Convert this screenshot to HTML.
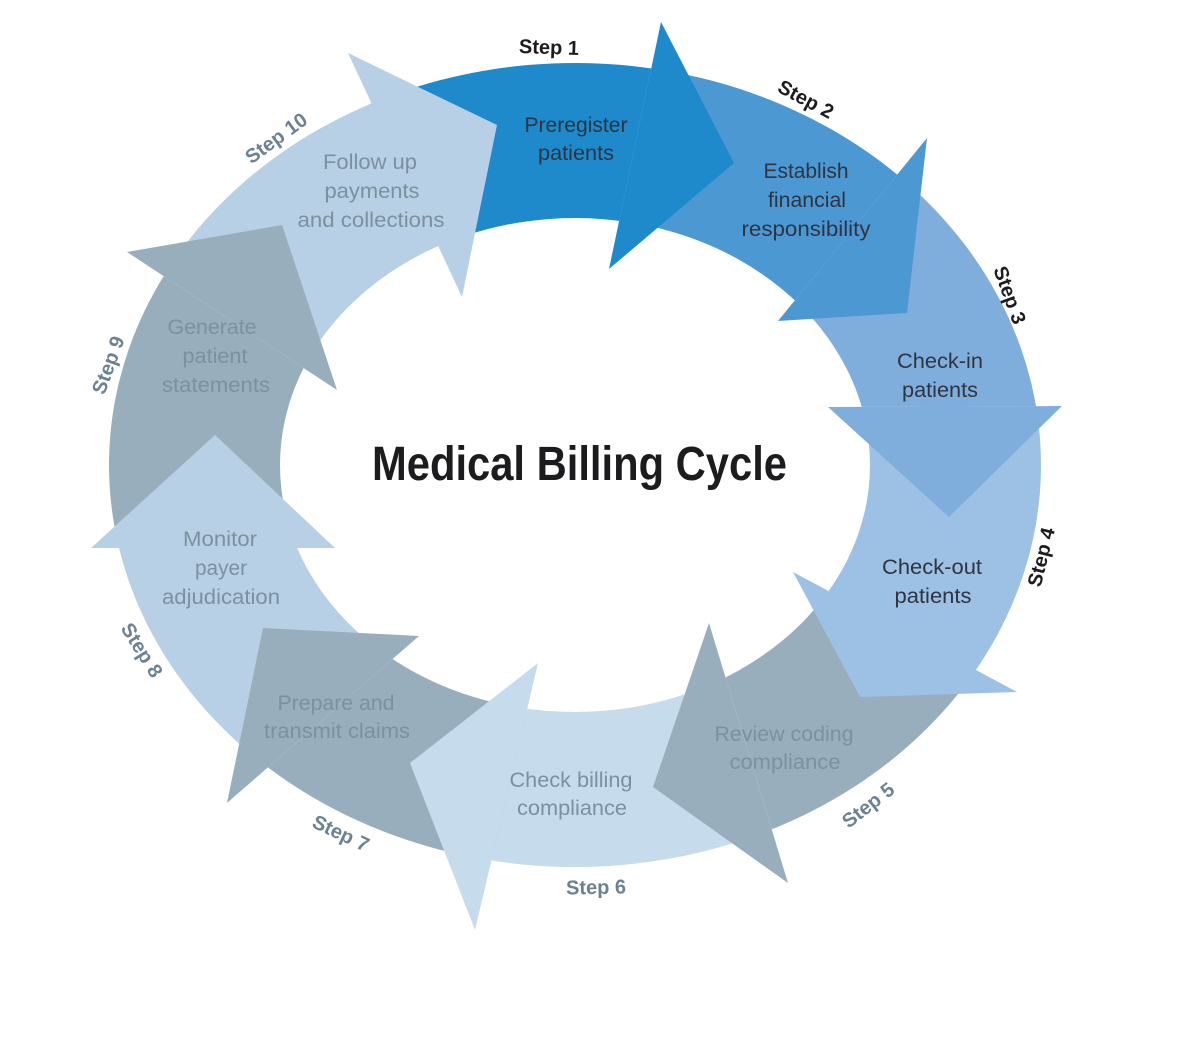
<!DOCTYPE html>
<html><head><meta charset="utf-8"><style>
html,body{margin:0;padding:0;background:#fff;}
svg{display:block;}
text{font-family:"Liberation Sans",Arial,sans-serif;}
.in{font-size:21px;text-anchor:middle;}
.st{font-size:20px;font-weight:bold;text-anchor:middle;}
</style></head><body>
<svg width="1200" height="1043" viewBox="0 0 1200 1043" xmlns="http://www.w3.org/2000/svg">
<defs>
<clipPath id="c1"><polygon points="462,297 348,53 363,-817 661,22 609,269"/></clipPath>
<clipPath id="c2"><polygon points="609,269 661,22 1232,-690 927,138 778,321"/></clipPath>
<clipPath id="c3"><polygon points="778,321 927,138 1833,-114 1062,406 828,407"/></clipPath>
<clipPath id="c4"><polygon points="828,407 1062,406 1969,717 1017,692 793,572"/></clipPath>
<clipPath id="c5"><polygon points="793,572 1017,692 1557,1432 788,883 709,623"/></clipPath>
<clipPath id="c6"><polygon points="709,623 788,883 744,1789 475,930 538,663"/></clipPath>
<clipPath id="c7"><polygon points="538,663 475,930 -97,1669 227,803 419,636"/></clipPath>
<clipPath id="c8"><polygon points="419,636 227,803 -673,1096 91,548 335,548"/></clipPath>
<clipPath id="c9"><polygon points="335,548 91,548 -823,270 127,252 337,390"/></clipPath>
<clipPath id="c10"><polygon points="337,390 127,252 -437,-472 348,53 462,297"/></clipPath>
</defs>

<g fill-rule="evenodd">
<path clip-path="url(#c1)" fill="#1e89cb" d="M109,465 a466,402 0 1,0 932,0 a466,402 0 1,0 -932,0 Z M280,465 a295,247 0 1,0 590,0 a295,247 0 1,0 -590,0 Z"/>
<path clip-path="url(#c2)" fill="#4c98d3" d="M109,465 a466,402 0 1,0 932,0 a466,402 0 1,0 -932,0 Z M280,465 a295,247 0 1,0 590,0 a295,247 0 1,0 -590,0 Z"/>
<path clip-path="url(#c3)" fill="#7faedd" d="M109,465 a466,402 0 1,0 932,0 a466,402 0 1,0 -932,0 Z M280,465 a295,247 0 1,0 590,0 a295,247 0 1,0 -590,0 Z"/>
<path clip-path="url(#c4)" fill="#9dc0e5" d="M109,465 a466,402 0 1,0 932,0 a466,402 0 1,0 -932,0 Z M280,465 a295,247 0 1,0 590,0 a295,247 0 1,0 -590,0 Z"/>
<path clip-path="url(#c5)" fill="#98aebd" d="M109,465 a466,402 0 1,0 932,0 a466,402 0 1,0 -932,0 Z M280,465 a295,247 0 1,0 590,0 a295,247 0 1,0 -590,0 Z"/>
<path clip-path="url(#c6)" fill="#c6dbec" d="M109,465 a466,402 0 1,0 932,0 a466,402 0 1,0 -932,0 Z M280,465 a295,247 0 1,0 590,0 a295,247 0 1,0 -590,0 Z"/>
<path clip-path="url(#c7)" fill="#98aebd" d="M109,465 a466,402 0 1,0 932,0 a466,402 0 1,0 -932,0 Z M280,465 a295,247 0 1,0 590,0 a295,247 0 1,0 -590,0 Z"/>
<path clip-path="url(#c8)" fill="#b8d0e5" d="M109,465 a466,402 0 1,0 932,0 a466,402 0 1,0 -932,0 Z M280,465 a295,247 0 1,0 590,0 a295,247 0 1,0 -590,0 Z"/>
<path clip-path="url(#c9)" fill="#98aebd" d="M109,465 a466,402 0 1,0 932,0 a466,402 0 1,0 -932,0 Z M280,465 a295,247 0 1,0 590,0 a295,247 0 1,0 -590,0 Z"/>
<path clip-path="url(#c10)" fill="#b8d0e5" d="M109,465 a466,402 0 1,0 932,0 a466,402 0 1,0 -932,0 Z M280,465 a295,247 0 1,0 590,0 a295,247 0 1,0 -590,0 Z"/>
</g>

<polygon fill="#1e89cb" points="661,22 734,163 609,269"/>
<polygon fill="#4c98d3" points="927,138 907,313 778,321"/>
<polygon fill="#7faedd" points="1062,406 949,517 828,407"/>
<polygon fill="#9dc0e5" points="1017,692 860,697 793,572"/>
<polygon fill="#98aebd" points="788,883 653,787 709,623"/>
<polygon fill="#c6dbec" points="475,930 410,763 538,663"/>
<polygon fill="#98aebd" points="227,803 263,628 419,636"/>
<polygon fill="#b8d0e5" points="91,548 215,435 335,548"/>
<polygon fill="#98aebd" points="127,252 282,225 337,390"/>
<polygon fill="#b8d0e5" points="348,53 497,125 462,297"/>

<text x="579.5" y="480" font-size="48" font-weight="bold" text-anchor="middle" fill="#1c1c1e" textLength="415" lengthAdjust="spacingAndGlyphs">Medical Billing Cycle</text>

<g class="in" fill="#2e3440">
<text x="576" y="132" textLength="103" lengthAdjust="spacingAndGlyphs">Preregister</text>
<text x="576" y="160" textLength="76" lengthAdjust="spacingAndGlyphs">patients</text>
<text x="806" y="178" textLength="85" lengthAdjust="spacingAndGlyphs">Establish</text>
<text x="807" y="207" textLength="78" lengthAdjust="spacingAndGlyphs">financial</text>
<text x="806" y="236" textLength="129" lengthAdjust="spacingAndGlyphs">responsibility</text>
<text x="940" y="368" textLength="86" lengthAdjust="spacingAndGlyphs">Check-in</text>
<text x="940" y="397" textLength="76" lengthAdjust="spacingAndGlyphs">patients</text>
<text x="932" y="574" textLength="100" lengthAdjust="spacingAndGlyphs">Check-out</text>
<text x="933" y="603" textLength="77" lengthAdjust="spacingAndGlyphs">patients</text>
</g>
<g class="in" fill="#7c90a0">
<text x="784" y="741" textLength="139" lengthAdjust="spacingAndGlyphs">Review coding</text>
<text x="785" y="769" textLength="111" lengthAdjust="spacingAndGlyphs">compliance</text>
<text x="571" y="787" textLength="123" lengthAdjust="spacingAndGlyphs">Check billing</text>
<text x="572" y="815" textLength="110" lengthAdjust="spacingAndGlyphs">compliance</text>
<text x="336" y="710" textLength="117" lengthAdjust="spacingAndGlyphs">Prepare and</text>
<text x="337" y="738" textLength="146" lengthAdjust="spacingAndGlyphs">transmit claims</text>
<text x="220" y="546" textLength="74" lengthAdjust="spacingAndGlyphs">Monitor</text>
<text x="221" y="575" textLength="52" lengthAdjust="spacingAndGlyphs">payer</text>
<text x="221" y="604" textLength="118" lengthAdjust="spacingAndGlyphs">adjudication</text>
<text x="212" y="334" textLength="89" lengthAdjust="spacingAndGlyphs">Generate</text>
<text x="215" y="363" textLength="65" lengthAdjust="spacingAndGlyphs">patient</text>
<text x="216" y="392" textLength="108" lengthAdjust="spacingAndGlyphs">statements</text>
<text x="370" y="169" textLength="94" lengthAdjust="spacingAndGlyphs">Follow up</text>
<text x="372" y="198" textLength="95" lengthAdjust="spacingAndGlyphs">payments</text>
<text x="371" y="227" textLength="147" lengthAdjust="spacingAndGlyphs">and collections</text>
</g>

<g class="st" fill="#1c1c1e">
<text transform="translate(549,47) rotate(2)" dy="7">Step 1</text>
<text transform="translate(806,99) rotate(28)" dy="7">Step 2</text>
<text transform="translate(1010,295) rotate(70)" dy="7">Step 3</text>
<text transform="translate(1041,557) rotate(-76)" dy="7">Step 4</text>
</g>
<g class="st" fill="#6b8194">
<text transform="translate(868,805) rotate(-38)" dy="7">Step 5</text>
<text transform="translate(596,887) rotate(-1)" dy="7">Step 6</text>
<text transform="translate(341,833) rotate(25)" dy="7">Step 7</text>
<text transform="translate(142,650) rotate(58)" dy="7">Step 8</text>
<text transform="translate(108,365) rotate(-70)" dy="7">Step 9</text>
<text transform="translate(276,138) rotate(-36)" dy="7">Step 10</text>
</g>
</svg>
</body></html>
